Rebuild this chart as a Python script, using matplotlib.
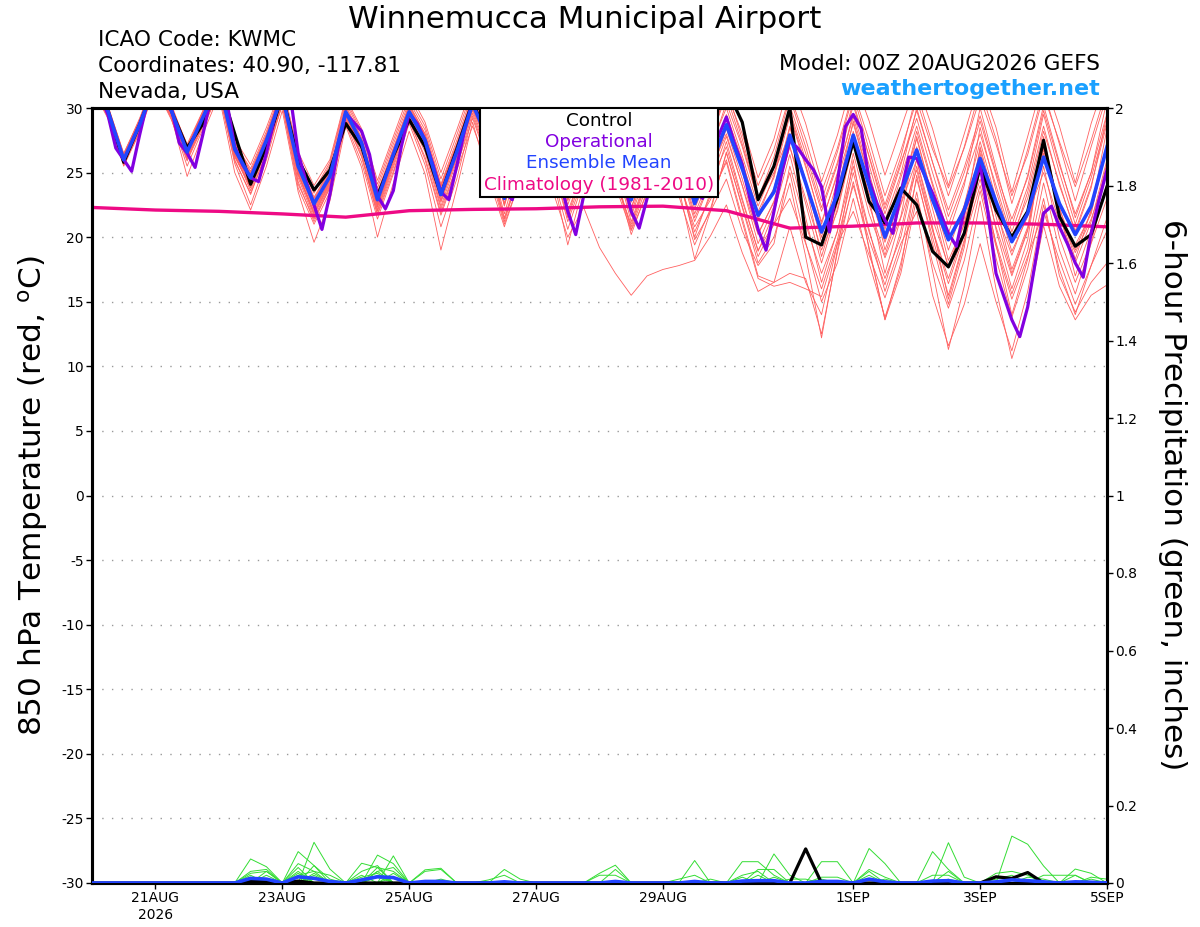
import numpy as np
import matplotlib.pyplot as plt
from matplotlib.patches import Rectangle

plt.rcParams['font.family'] = ['DejaVu Sans']
plt.rcParams['axes.unicode_minus'] = False

# hours after 00Z 20AUG2026
hours = np.arange(0, 385, 6)
hours_op = np.arange(0, 385, 3)
hours_clim = np.arange(0, 385, 24)

ens_mean = [32.0, 29.8, 26.0, 28.7, 32.0, 29.8, 26.6, 29.3,
            32.0, 26.8, 24.6, 27.5, 31.0, 25.5, 22.6, 24.7,
            29.7, 27.3, 22.9, 26.4, 29.7, 27.5, 23.3, 26.6,
            30.3, 27.5, 23.0, 27.0, 30.5, 27.5, 23.5, 27.0,
            30.3, 27.0, 22.9, 26.5, 29.8, 27.0, 22.6, 25.5,
            28.7, 25.3, 21.7, 23.5, 27.9, 24.2, 20.4, 23.3,
            27.9, 24.0, 20.0, 23.4, 26.75, 22.9, 19.8, 22.1,
            26.1, 22.75, 19.65, 21.85, 26.2, 22.6, 20.2, 22.4,
            27.0]

control = [32.0, 29.8, 25.8, 28.7, 32.0, 29.8, 26.9, 28.8,
           32.0, 28.0, 24.1, 27.0, 31.0, 26.0, 23.65, 25.2,
           28.8, 27.0, 23.2, 26.3, 29.1, 27.0, 23.3, 26.8,
           30.5, 27.5, 23.2, 27.0, 30.8, 27.0, 23.8, 27.0,
           30.5, 27.0, 23.3, 27.0, 30.5, 28.0, 24.5, 29.5,
           31.5, 28.9, 22.9, 25.5, 30.0, 20.0, 19.4, 23.0,
           27.4, 22.75, 21.1, 23.8, 22.5, 18.9, 17.7, 20.3,
           25.5, 22.1, 20.0, 22.0, 27.5, 21.6, 19.3, 20.2,
           23.9]

# operational run is 3-hourly
operational = [32.0, 31.0, 29.5, 26.9, 26.0, 25.1, 27.9, 30.5,
               32.0, 31.5, 30.0, 27.3, 26.5, 25.4, 28.0, 30.8,
               32.5, 30.5, 27.0, 25.6, 24.6, 24.3, 26.5, 29.2,
               31.5, 31.0, 26.5, 24.3, 22.5, 20.6, 23.3, 26.8,
               29.6, 28.9, 28.2, 26.4, 23.2, 22.2, 23.6, 27.0,
               29.6, 28.8, 27.5, 25.6, 23.5, 22.9, 25.5, 28.3,
               30.5, 30.5, 28.0, 25.5, 23.5, 22.9, 25.5, 28.0,
               30.2, 30.0, 27.5, 24.5, 22.0, 20.2, 23.2, 26.5,
               29.5, 29.8, 27.5, 24.5, 22.0, 20.7, 23.0, 26.0,
               29.0, 29.0, 27.0, 25.0, 23.5, 23.0, 25.5, 27.8,
               29.3, 27.3, 25.6, 22.9, 20.6, 19.0, 22.0, 25.0,
               27.5, 26.9, 26.0, 25.2, 23.9, 20.4, 24.2, 28.55,
               29.5, 28.4, 24.4, 22.6, 21.3, 20.3, 23.4, 26.2,
               26.1, 24.8, 23.4, 21.85, 20.3, 19.3, 22.1, 23.65,
               25.6, 21.85, 17.2, 15.4, 13.6, 12.3, 14.6, 18.2,
               21.85, 22.4, 20.8, 19.5, 18.0, 16.9, 20.3, 22.9,
               25.2]

climatology = [22.3, 22.1, 22.0, 21.8, 21.55, 22.05, 22.15, 22.2, 22.35,
               22.4, 22.05, 20.7, 20.85, 21.1, 21.1, 21.0, 20.8]

members = [
    [32.5, 30.2, 26.4, 29.2, 32.4, 30.0, 26.9, 29.8, 32.3, 27.4, 25.1, 28.0, 31.5, 26.0, 23.4, 25.6,
     30.4, 28.0, 23.8, 27.2, 30.5, 28.3, 24.1, 27.5, 31.2, 28.6, 24.3, 28.0, 31.6, 28.7, 24.6, 28.3,
     31.8, 28.5, 24.5, 28.2, 31.5, 28.8, 24.7, 27.9, 31.2, 28.0, 24.0, 26.8, 31.0, 27.6, 23.5, 26.9,
     31.3, 27.5, 23.2, 26.7, 30.6, 26.8, 23.8, 26.9, 30.8, 27.2, 23.2, 26.4, 31.0, 27.4, 23.9, 27.5, 31.5],
    [31.8, 29.5, 25.7, 28.4, 31.9, 29.6, 26.3, 29.0, 31.6, 26.3, 24.0, 27.0, 30.5, 24.6, 21.5, 24.0,
     29.2, 26.5, 22.0, 25.6, 29.3, 26.9, 22.4, 25.9, 29.8, 26.5, 21.8, 26.2, 29.9, 26.4, 22.0, 25.3,
     28.0, 24.0, 20.5, 23.4, 27.2, 24.3, 20.8, 22.9, 26.0, 21.5, 17.0, 16.5, 17.2, 16.8, 12.5, 18.8,
     24.3, 19.2, 13.6, 18.0, 23.5, 17.4, 11.3, 16.2, 22.8, 16.0, 10.6, 14.6, 20.9, 16.2, 13.6, 15.5, 16.3],
    [32.2, 30.0, 26.2, 28.9, 32.1, 29.9, 26.7, 29.4, 31.9, 26.5, 24.2, 27.3, 31.2, 25.0, 21.9, 24.3,
     29.5, 27.0, 22.6, 26.2, 29.9, 27.7, 23.6, 26.9, 30.6, 27.8, 23.3, 27.3, 30.9, 27.7, 23.1, 26.6,
     29.6, 26.2, 21.8, 25.8, 29.4, 26.0, 21.5, 24.4, 27.8, 24.0, 19.5, 22.4, 28.5, 24.0, 18.5, 22.6,
     28.2, 23.0, 17.2, 21.5, 25.2, 20.5, 16.4, 20.2, 27.0, 22.4, 17.5, 20.8, 27.5, 22.3, 18.3, 22.1, 28.4],
    [31.5, 29.2, 25.5, 28.1, 31.6, 29.1, 25.9, 28.6, 31.2, 25.9, 23.4, 26.5, 30.2, 23.8, 21.0, 23.5,
     28.8, 25.8, 21.4, 24.9, 29.1, 26.0, 21.7, 25.2, 28.6, 25.3, 21.0, 24.5, 27.5, 23.8, 20.0, 22.3,
     19.2, 17.2, 15.5, 17.0, 17.5, 17.8, 18.2, 20.1, 22.5, 18.8, 15.8, 16.5, 20.8, 16.5, 14.0, 19.5,
     22.0, 18.6, 15.3, 19.0, 24.5, 20.0, 15.5, 19.8, 24.0, 19.3, 15.2, 18.5, 22.0, 18.2, 14.8, 17.8, 21.5],
    [32.0, 29.9, 26.1, 28.8, 32.2, 30.1, 27.1, 29.6, 32.1, 27.2, 25.0, 27.9, 31.4, 25.9, 23.1, 25.2,
     30.1, 27.6, 23.2, 26.8, 30.1, 27.9, 23.9, 27.2, 30.8, 27.9, 23.6, 27.4, 31.1, 28.0, 24.0, 27.5,
     31.0, 27.8, 23.7, 27.2, 30.6, 27.9, 23.5, 26.7, 30.4, 27.0, 22.8, 25.5, 30.2, 26.5, 22.3, 25.8,
     30.5, 26.2, 21.8, 25.6, 29.8, 25.8, 22.1, 25.4, 29.4, 25.0, 21.4, 24.6, 29.8, 25.6, 21.8, 25.0, 29.6],
    [31.7, 29.4, 25.6, 28.3, 31.8, 29.3, 24.7, 28.0, 31.0, 25.0, 22.1, 25.5, 29.8, 23.5, 19.6, 22.8,
     28.6, 25.4, 20.0, 24.2, 28.2, 24.9, 19.0, 23.8, 28.9, 24.6, 20.8, 24.5, 29.2, 25.0, 19.4, 24.0,
     28.5, 24.4, 21.0, 24.6, 28.8, 24.8, 19.8, 22.0, 24.5, 20.5, 17.8, 19.5, 25.5, 21.0, 17.2, 20.4,
     26.5, 21.8, 18.4, 21.6, 27.8, 23.0, 18.2, 21.0, 25.5, 20.8, 17.0, 20.5, 26.8, 21.7, 18.8, 21.4, 25.0],
    [32.3, 30.1, 26.3, 29.0, 32.3, 30.2, 26.5, 29.1, 32.0, 26.9, 24.8, 27.7, 31.1, 25.6, 22.9, 25.0,
     29.9, 27.5, 23.0, 26.6, 30.3, 28.0, 23.7, 27.1, 30.9, 28.3, 23.9, 27.8, 31.4, 28.5, 24.2, 28.1,
     31.6, 28.4, 24.0, 27.9, 31.8, 28.9, 25.0, 28.7, 32.0, 28.8, 24.6, 27.6, 32.2, 28.8, 24.3, 27.9,
     32.4, 29.0, 24.8, 28.4, 32.0, 28.4, 24.0, 28.0, 32.1, 28.5, 23.5, 27.8, 32.3, 28.6, 24.2, 28.8, 32.5],
    [31.9, 29.6, 25.9, 28.6, 31.9, 29.5, 26.2, 28.9, 31.8, 26.6, 24.3, 27.1, 30.8, 25.2, 22.3, 24.4,
     29.6, 27.1, 22.7, 26.3, 29.5, 27.2, 22.9, 26.3, 30.1, 27.2, 22.6, 26.5, 30.2, 27.1, 22.8, 26.4,
     29.9, 26.6, 22.2, 25.8, 29.2, 26.2, 21.8, 24.8, 28.4, 24.5, 20.3, 22.7, 27.0, 23.0, 19.0, 22.0,
     27.2, 23.4, 19.6, 23.0, 28.2, 24.0, 19.8, 22.4, 26.2, 22.0, 18.6, 21.8, 25.0, 21.2, 19.4, 21.8, 27.2],
    [32.1, 29.8, 26.0, 28.7, 32.0, 29.7, 26.4, 29.1, 31.8, 26.4, 23.6, 26.8, 30.6, 24.8, 21.8, 24.2,
     29.3, 26.8, 22.3, 25.9, 29.6, 27.4, 23.1, 26.4, 30.2, 27.6, 22.4, 26.9, 30.4, 27.0, 21.6, 25.7,
     30.0, 25.8, 21.2, 24.8, 28.5, 24.6, 20.4, 23.2, 25.8, 21.2, 16.8, 16.2, 16.5, 16.0, 15.4, 19.5,
     24.0, 19.8, 16.3, 20.5, 26.0, 20.8, 15.2, 19.6, 25.2, 19.5, 14.0, 18.3, 24.2, 19.0, 15.6, 19.5, 23.0],
    [32.4, 30.2, 26.5, 29.1, 32.5, 30.3, 27.0, 29.7, 32.2, 27.3, 25.3, 28.2, 31.6, 26.3, 23.6, 25.8,
     30.6, 28.2, 24.1, 27.5, 30.8, 28.6, 24.5, 27.9, 31.5, 29.0, 25.0, 28.5, 32.0, 29.1, 25.6, 28.8,
     32.1, 29.0, 25.0, 28.6, 31.2, 28.1, 23.9, 27.0, 30.0, 26.3, 22.4, 25.4, 29.6, 25.6, 21.0, 25.0,
     29.3, 25.0, 20.6, 24.6, 28.6, 24.2, 20.3, 24.0, 30.0, 25.4, 20.9, 24.8, 30.2, 25.8, 21.5, 25.0, 30.6],
    [31.9, 29.7, 25.8, 28.5, 32.0, 29.6, 26.0, 28.8, 31.7, 26.2, 23.9, 26.9, 30.9, 24.9, 22.0, 24.5,
     29.4, 26.9, 22.1, 25.8, 29.2, 26.6, 22.2, 25.5, 29.6, 26.2, 21.5, 25.3, 29.5, 25.9, 21.2, 24.6,
     29.1, 25.0, 20.6, 24.0, 27.6, 23.2, 19.4, 22.2, 26.5, 22.4, 18.5, 21.0, 25.0, 19.6, 15.0, 18.0,
     23.0, 18.0, 13.8, 17.6, 24.8, 19.5, 14.8, 19.2, 26.5, 20.6, 16.0, 19.8, 27.8, 22.0, 17.0, 20.6, 25.8],
    [32.2, 29.9, 26.1, 29.0, 32.1, 30.0, 26.8, 29.5, 32.0, 27.0, 24.9, 27.8, 31.3, 25.7, 22.7, 24.9,
     29.8, 27.4, 23.4, 26.7, 30.0, 27.8, 23.9, 27.0, 30.5, 27.9, 23.5, 27.2, 30.8, 27.8, 23.8, 27.3,
     30.7, 27.5, 23.3, 27.0, 30.9, 28.2, 24.1, 27.4, 31.5, 27.6, 23.0, 26.2, 30.8, 27.0, 22.8, 26.6,
     31.0, 26.8, 22.5, 26.2, 31.2, 27.2, 23.2, 27.0, 31.5, 27.6, 22.6, 26.8, 31.4, 27.2, 22.8, 27.0, 31.0],
    [31.6, 29.3, 25.6, 28.2, 31.7, 29.2, 25.5, 28.4, 31.3, 25.7, 22.5, 26.0, 30.4, 24.3, 21.2, 23.9,
     29.0, 26.2, 21.7, 25.1, 28.8, 25.6, 20.8, 24.5, 29.4, 25.9, 21.4, 25.0, 28.8, 25.0, 20.6, 24.4,
     28.2, 24.5, 20.8, 24.4, 28.6, 24.6, 20.0, 23.5, 27.4, 23.0, 18.9, 21.9, 26.4, 21.5, 16.5, 20.5,
     25.5, 20.6, 15.8, 19.5, 22.0, 15.5, 11.6, 14.8, 19.5, 15.0, 11.2, 15.8, 22.5, 17.5, 14.0, 17.8, 20.5],
    [32.0, 29.8, 26.0, 28.8, 32.1, 29.8, 26.6, 29.3, 31.9, 26.7, 24.5, 27.4, 31.0, 25.4, 22.5, 24.6,
     29.7, 27.2, 22.8, 26.3, 29.8, 27.5, 23.4, 26.7, 30.3, 27.4, 22.9, 27.0, 30.6, 27.6, 23.3, 27.0,
     30.4, 27.2, 22.7, 26.4, 30.0, 27.1, 22.9, 26.0, 29.5, 26.0, 21.4, 23.8, 28.6, 24.4, 19.6, 23.5,
     29.0, 24.6, 19.8, 23.8, 27.6, 23.2, 19.0, 22.5, 27.4, 23.0, 18.9, 21.6, 26.5, 22.2, 19.0, 22.0, 26.8],
    [32.3, 30.1, 26.4, 29.0, 32.2, 30.1, 27.2, 29.8, 32.4, 27.6, 25.6, 28.5, 31.8, 26.6, 24.0, 26.0,
     30.8, 28.4, 24.4, 27.8, 31.2, 28.9, 25.0, 28.3, 31.8, 29.3, 25.3, 28.9, 32.2, 29.5, 25.9, 29.2,
     32.4, 29.6, 25.5, 29.0, 32.0, 29.2, 24.5, 27.6, 31.0, 27.2, 22.9, 25.0, 28.0, 24.0, 20.0, 24.4,
     28.8, 24.5, 19.0, 22.6, 27.0, 22.2, 17.6, 21.4, 28.5, 23.6, 19.6, 23.5, 28.6, 24.0, 20.5, 24.0, 28.8],
    [31.8, 29.5, 25.8, 28.4, 31.8, 29.4, 26.1, 28.7, 31.5, 26.0, 23.3, 26.6, 30.3, 24.1, 21.4, 23.8,
     29.1, 26.3, 21.8, 25.4, 29.0, 26.2, 21.9, 25.5, 29.2, 25.7, 21.2, 25.2, 29.4, 25.8, 21.5, 25.0,
     28.8, 24.8, 20.2, 23.6, 28.0, 23.8, 18.3, 22.0, 26.6, 22.3, 18.0, 20.0, 24.2, 18.5, 12.2, 19.0,
     26.0, 19.0, 13.6, 17.2, 23.0, 18.0, 14.5, 18.2, 23.6, 18.4, 13.8, 17.6, 23.0, 17.0, 14.2, 16.5, 18.0],
    [32.1, 29.9, 26.2, 28.9, 32.0, 29.8, 26.7, 29.2, 31.9, 26.8, 24.6, 27.6, 31.2, 25.5, 22.4, 24.8,
     29.8, 27.3, 23.0, 26.5, 29.9, 27.6, 23.5, 26.8, 30.4, 27.6, 23.2, 27.1, 30.7, 27.8, 23.6, 27.3,
     30.6, 27.4, 23.1, 26.9, 30.3, 27.4, 23.2, 26.4, 29.2, 25.8, 22.0, 24.6, 29.4, 25.4, 21.2, 24.8,
     29.6, 25.6, 21.3, 24.9, 30.0, 25.8, 21.6, 25.0, 29.0, 24.8, 20.4, 23.9, 29.5, 25.0, 21.0, 24.6, 29.0],
    [31.9, 29.6, 25.9, 28.6, 31.9, 29.6, 26.3, 29.0, 31.6, 26.5, 24.1, 27.1, 30.7, 25.1, 22.2, 24.3,
     29.4, 27.0, 22.5, 26.0, 29.4, 27.0, 22.7, 26.1, 29.9, 27.0, 22.5, 26.4, 30.0, 26.8, 22.5, 26.0,
     29.4, 26.0, 21.6, 25.2, 29.0, 25.6, 21.2, 24.3, 27.0, 22.8, 19.0, 21.0, 23.0, 19.5, 16.0, 19.8,
     25.0, 20.4, 16.8, 20.0, 25.5, 20.6, 16.8, 20.5, 24.5, 19.6, 15.6, 19.0, 25.5, 20.0, 16.5, 19.6, 24.2],
    [32.2, 30.0, 26.3, 29.0, 32.3, 30.1, 26.9, 29.5, 32.1, 27.1, 24.7, 27.8, 31.3, 25.8, 23.0, 25.1,
     30.2, 27.7, 23.5, 26.9, 30.2, 28.0, 24.0, 27.2, 30.9, 28.1, 23.8, 27.6, 31.2, 28.2, 24.1, 27.6,
     31.2, 27.9, 23.6, 27.3, 30.4, 27.3, 23.0, 26.0, 28.8, 25.4, 21.6, 24.8, 29.8, 26.0, 22.0, 25.6,
     30.2, 26.3, 22.2, 25.8, 29.2, 25.0, 21.0, 24.3, 28.0, 24.0, 20.0, 23.0, 28.2, 24.2, 20.3, 23.8, 29.5],
    [32.0, 29.7, 25.9, 28.7, 32.0, 29.7, 26.5, 29.1, 31.7, 26.4, 23.8, 26.9, 30.8, 24.9, 21.7, 24.1,
     29.5, 26.9, 22.4, 25.9, 29.6, 27.2, 22.8, 26.2, 30.0, 27.1, 22.6, 26.6, 30.2, 27.0, 22.9, 26.3,
     29.8, 26.5, 22.3, 25.7, 29.6, 26.5, 22.2, 25.2, 28.0, 24.0, 20.2, 22.8, 27.0, 22.6, 18.0, 22.2,
     27.5, 22.5, 18.6, 22.5, 26.0, 21.4, 17.8, 21.0, 26.8, 21.6, 17.2, 20.6, 27.0, 21.8, 18.0, 21.2, 26.0],
]

# 6-hour precipitation, (step, inches) where nonzero
precip_mean_ev = [(10, 0.012), (11, 0.010), (13, 0.016), (14, 0.012), (15, 0.004), (17, 0.008),
                  (18, 0.016), (19, 0.014), (21, 0.004), (22, 0.004), (26, 0.003), (33, 0.004),
                  (38, 0.004), (41, 0.005), (42, 0.006), (43, 0.006), (46, 0.004), (47, 0.004),
                  (49, 0.010), (50, 0.003), (53, 0.005), (54, 0.006), (57, 0.003), (58, 0.008),
                  (59, 0.006), (60, 0.003), (62, 0.003), (63, 0.002)]
precip_control_ev = [(10, 0.004), (11, 0.003), (13, 0.005), (45, 0.088), (57, 0.016),
                     (58, 0.012), (59, 0.027)]
precip_member_ev = [
    [(10, 0.062), (11, 0.042), (13, 0.02), (14, 0.03), (18, 0.072), (19, 0.05), (41, 0.055), (42, 0.055), (43, 0.02)],
    [(10, 0.03), (11, 0.035), (13, 0.081), (14, 0.045), (17, 0.051), (18, 0.04), (49, 0.089), (50, 0.05),
     (58, 0.121), (59, 0.1), (60, 0.044)],
    [(10, 0.025), (11, 0.03), (14, 0.105), (15, 0.036), (19, 0.07), (21, 0.034), (22, 0.038), (46, 0.055), (47, 0.055)],
    [(10, 0.02), (13, 0.05), (14, 0.03), (15, 0.02), (17, 0.03), (18, 0.045), (26, 0.035), (27, 0.01),
     (53, 0.081), (54, 0.035)],
    [(11, 0.03), (13, 0.04), (18, 0.03), (19, 0.04), (32, 0.025), (33, 0.046), (43, 0.075), (44, 0.02),
     (54, 0.104), (55, 0.015)],
    [(14, 0.045), (15, 0.01), (17, 0.02), (21, 0.03), (22, 0.035), (38, 0.058), (42, 0.035), (43, 0.035),
     (62, 0.036), (63, 0.025)],
    [(13, 0.03), (18, 0.04), (19, 0.03), (33, 0.035), (49, 0.035), (50, 0.015), (57, 0.025), (58, 0.03), (59, 0.02)],
    [(10, 0.015), (14, 0.02), (18, 0.02), (37, 0.01), (38, 0.02), (41, 0.02), (42, 0.03), (49, 0.03),
     (60, 0.02), (61, 0.02), (62, 0.02)],
    [(11, 0.02), (13, 0.025), (19, 0.025), (25, 0.008), (26, 0.02), (46, 0.015), (47, 0.015), (53, 0.02),
     (54, 0.02), (63, 0.015), (64, 0.01)],
    [(14, 0.025), (18, 0.03), (32, 0.02), (33, 0.02), (41, 0.015), (44, 0.01), (45, 0.01), (62, 0.02)],
    [(10, 0.01), (13, 0.015), (17, 0.015), (18, 0.025), (49, 0.02), (54, 0.03), (57, 0.01), (58, 0.02)],
    [(14, 0.015), (22, 0.01), (39, 0.01), (42, 0.02), (50, 0.01), (59, 0.015), (60, 0.01)],
    [(18, 0.015), (43, 0.015), (63, 0.01)],
    [(11, 0.01), (46, 0.01)],
    [(19, 0.015), (54, 0.01)],
]

tick_hours = [24, 72, 120, 168, 216, 288, 336, 384]
tick_labels = ['21AUG\n2026', '23AUG', '25AUG', '27AUG', '29AUG', '1SEP', '3SEP', '5SEP']
temp_ticks = np.arange(-30, 31, 5)
precip_ticks = [0, 0.2, 0.4, 0.6, 0.8, 1.0, 1.2, 1.4, 1.6, 1.8, 2.0]
precip_labels = ['0', '0.2', '0.4', '0.6', '0.8', '1', '1.2', '1.4', '1.6', '1.8', '2']


def series_from_events(events):
    s = np.zeros(len(hours))
    for i, v in events:
        s[i] = v
    return s


fig = plt.figure(figsize=(12, 9.27), dpi=100)
ax = fig.add_axes([92 / 1200, 44 / 927, 1015 / 1200, 775 / 927])

for m in members:
    ax.plot(hours, m, color='#ff6060', lw=0.6, zorder=2)
ax.plot(hours_clim, climatology, color='#ee0a85', lw=2.4, zorder=3)
ax.plot(hours, control, color='black', lw=2.3, zorder=4)
ax.plot(hours_op, operational, color='#8200e0', lw=2.3, zorder=5)
ax.plot(hours, ens_mean, color='#2244ff', lw=2.6, zorder=6)

ax.set_xlim(0, 384)
ax.set_ylim(-30, 30)
ax.set_yticks(temp_ticks)
ax.set_xticks(tick_hours)
ax.set_xticklabels(tick_labels)
ax.yaxis.grid(True, linestyle=(0, (1, 6)), color='#999999', lw=1)
ax.tick_params(direction='out', length=4, width=1, labelsize=10, pad=2)
for sp in ax.spines.values():
    sp.set_linewidth(2.2)

ax2 = ax.twinx()
for ev in precip_member_ev:
    ax2.plot(hours, series_from_events(ev), color='#33dd33', lw=0.7, zorder=2)
ax2.plot(hours, series_from_events(precip_control_ev), color='black', lw=2.3, zorder=4)
ax2.plot(hours, series_from_events(precip_mean_ev), color='#2244ff', lw=2.6, zorder=5)
ax2.set_ylim(0, 2)
ax2.set_yticks(precip_ticks)
ax2.set_yticklabels(precip_labels)
ax2.tick_params(direction='out', length=4, width=1, labelsize=10, pad=2)
for sp in ax2.spines.values():
    sp.set_linewidth(2.2)

# legend box at the top centre
ax2.add_patch(Rectangle((0.3823, 0.8852), 0.2344, 0.1148, transform=ax2.transAxes,
                        facecolor='white', edgecolor='black', lw=1.5, zorder=20))
leg_items = [('Control', 'black'), ('Operational', '#8200e0'),
             ('Ensemble Mean', '#2244ff'), ('Climatology (1981-2010)', '#ee0a85')]
leg_y = [0.9832, 0.9561, 0.9290, 0.9006]
for (txt, col), y in zip(leg_items, leg_y):
    ax2.text(0.4995, y, txt, color=col, fontsize=13.2, ha='center', va='center',
             transform=ax2.transAxes, zorder=21)

fig.text(585 / 1200, 1 - 19 / 927, 'Winnemucca Municipal Airport', fontsize=22.3,
         ha='center', va='center')
fig.text(98 / 1200, 1 - 40 / 927, 'ICAO Code: KWMC', fontsize=15.6, ha='left', va='center')
fig.text(98 / 1200, 1 - 66 / 927, 'Coordinates: 40.90, -117.81', fontsize=15.6, ha='left', va='center')
fig.text(98 / 1200, 1 - 92 / 927, 'Nevada, USA', fontsize=15.6, ha='left', va='center')
fig.text(1100 / 1200, 1 - 64 / 927, 'Model: 00Z 20AUG2026 GEFS', fontsize=15.6, ha='right', va='center')
fig.text(1100 / 1200, 1 - 89 / 927, 'weathertogether.net', fontsize=16, fontweight='bold',
         color='#1aa0ff', ha='right', va='center')

fig.text(33 / 1200, 1 - 495 / 927, r'850 hPa Temperature (red, $^\mathregular{o}$C)', fontsize=22.4,
         rotation=90, ha='center', va='center')
fig.text(1172 / 1200, 1 - 495 / 927, '6-hour Precipitation (green, inches)', fontsize=22.4,
         rotation=270, ha='center', va='center')

fig.savefig('out.png', dpi=100)
